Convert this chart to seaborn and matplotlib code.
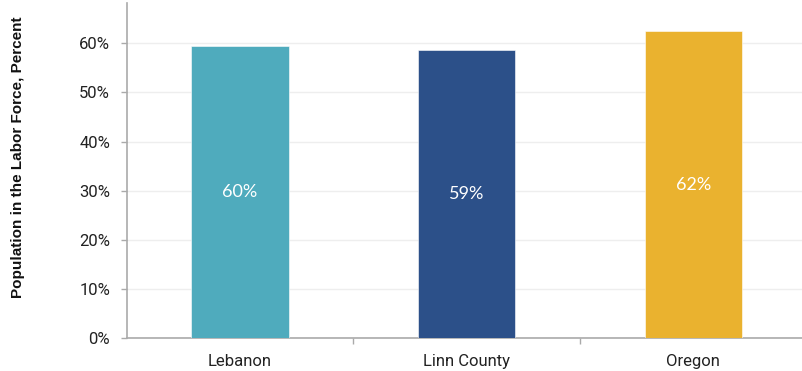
import matplotlib
matplotlib.use("Agg")
import matplotlib.pyplot as plt
from matplotlib.ticker import FuncFormatter, FixedLocator
import seaborn as sns
import pandas as pd

# Labor force participation by area
areas = ["Lebanon", "Linn County", "Oregon"]
participation = [59.5, 58.6, 62.4]
bar_colors = ["#4FABBD", "#2C5089", "#EAB22F"]
y_ticks = [0, 10, 20, 30, 40, 50, 60]

df = pd.DataFrame({"area": areas, "pct": participation})

sns.set_theme(style="white")
plt.rcParams["font.family"] = ["Roboto", "DejaVu Sans"]

fig = plt.figure(figsize=(8.02, 3.71), dpi=100)
ax = fig.add_axes([0.158, 0.088, 0.842, 0.904])

sns.barplot(data=df, x="area", y="pct", hue="area", palette=bar_colors,
            width=0.43, legend=False, ax=ax, saturation=1,
            edgecolor="white", linewidth=0.4, zorder=3)

ax.set_ylim(0, 68.2)
ax.set_xlim(-0.5, 2.48)
ax.yaxis.set_major_locator(FixedLocator(y_ticks))
ax.yaxis.set_major_formatter(FuncFormatter(lambda v, _: f"{v:.0f}%"))
ax.grid(axis="y", color="#EEEEEE", linewidth=1, zorder=0)
ax.grid(axis="x", visible=False)

# category ticks sit between the bars, labels at the bar centres
ax.set_xticks([0.5, 1.5], minor=False)
ax.set_xticklabels([])
ax.set_xticks([0, 1, 2], minor=True)
ax.set_xticklabels(areas, minor=True)
ax.tick_params(axis="x", which="major", length=4, width=1, color="#AAAAAA", direction="out")
ax.tick_params(axis="x", which="minor", length=0, pad=11, labelsize=12, labelcolor="#222222")
ax.tick_params(axis="y", length=4, width=1, color="#AAAAAA", direction="out",
               labelsize=12, labelcolor="#222222", pad=8)
ax.tick_params(bottom=True, left=True)

for side in ["top", "right"]:
    ax.spines[side].set_visible(False)
for side in ["left", "bottom"]:
    ax.spines[side].set_color("#AAAAAA")
    ax.spines[side].set_linewidth(1.2)

ax.set_xlabel("")
ax.set_ylabel("Population in the Labor Force, Percent", fontsize=11,
              fontweight="bold", family=["Liberation Sans", "DejaVu Sans"],
              color="#111111")
ax.yaxis.set_label_coords(-0.151, 0.539)

for patch, val in zip(ax.patches, participation):
    cx = patch.get_x() + patch.get_width() / 2
    ax.text(cx, val / 2, f"{val:.0f}%", ha="center", va="center",
            color="white", fontsize=13, family=["Lato", "DejaVu Sans"], zorder=4)

fig.savefig("out.png", dpi=100)
